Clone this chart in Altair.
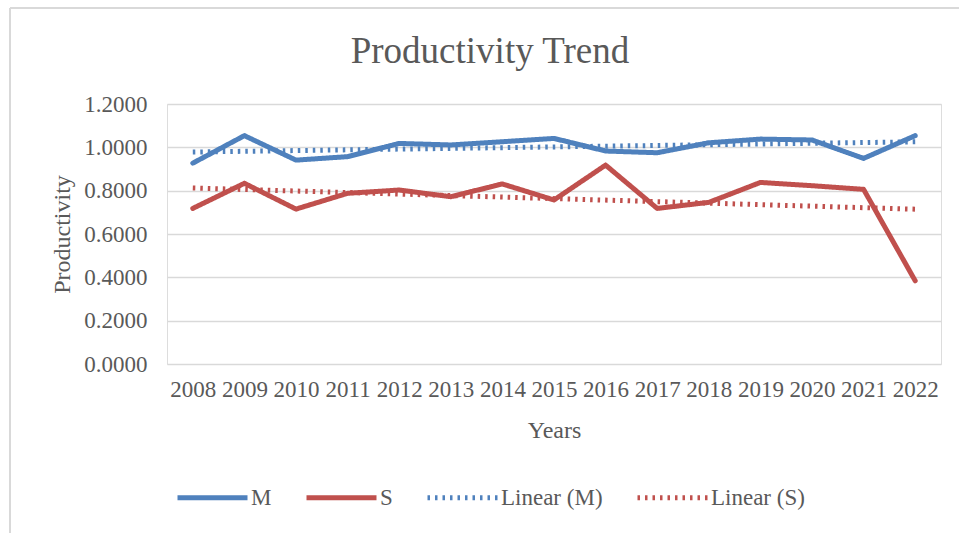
import altair as alt
import pandas as pd

years = list(range(2008, 2023))
m_vals = [0.927, 1.054, 0.941, 0.957, 1.018, 1.011, 1.026, 1.041, 0.983, 0.975, 1.021, 1.038, 1.034, 0.949, 1.054]
s_vals = [0.718, 0.834, 0.715, 0.788, 0.803, 0.772, 0.831, 0.757, 0.918, 0.718, 0.746, 0.838, 0.823, 0.806, 0.384]
series_names = ["M", "S"]
legend_labels = ["M", "S", "Linear (M)", "Linear (S)"]
colors = ["#4F81BD", "#C0504D", "#4F81BD", "#C0504D"]
y_ticks = [0, 0.2, 0.4, 0.6, 0.8, 1.0, 1.2]

rows = []
for name, vals in zip(series_names, [m_vals, s_vals]):
    for yr, v in zip(years, vals):
        rows.append({"year": yr, "value": v, "series": name, "label": name})
df = pd.DataFrame(rows)

FONT = "Liberation Serif"
TXT = "#595959"

x_enc = alt.X(
    "year:Q",
    scale=alt.Scale(domain=[2007.5, 2022.5], nice=False, zero=False),
    axis=alt.Axis(
        values=years, format="d", grid=False, domain=False, ticks=False,
        labelPadding=14, labelFontSize=23, labelFont=FONT, labelColor=TXT,
        title="Years", titleFontSize=24, titleFont=FONT, titleColor=TXT,
        titleFontWeight="normal", titleY=66, titleBaseline="middle",
    ),
)
y_enc = alt.Y(
    "value:Q",
    scale=alt.Scale(domain=[0, 1.2], nice=False),
    axis=alt.Axis(
        values=y_ticks, format=".4f", domain=False, ticks=False,
        gridColor="#D9D9D9", gridWidth=1.5,
        labelPadding=20, labelFontSize=23, labelFont=FONT, labelColor=TXT,
        title="Productivity", titleFontSize=24, titleFont=FONT, titleColor=TXT,
        titleFontWeight="normal", titleX=-105, titleY=130, titleBaseline="middle",
        titleAngle=270,
    ),
)

color_enc = alt.Color(
    "label:N",
    scale=alt.Scale(domain=legend_labels, range=colors),
    legend=alt.Legend(
        title=None, orient="none", direction="horizontal", legendX=8, legendY=356,
        symbolType="stroke", symbolSize=4900, labelFontSize=23, labelFont=FONT,
        labelColor=TXT, labelOffset=1, columnPadding=24, padding=0,
    ),
)
dash_enc = alt.StrokeDash(
    "label:N",
    scale=alt.Scale(domain=legend_labels, range=[[1, 0], [1, 0], [2.5, 5], [2.5, 5]]),
    legend=None,
)
width_enc = alt.StrokeWidth(
    "label:N",
    scale=alt.Scale(domain=legend_labels, range=[5, 5, 3, 3]),
    legend=None,
)

base = alt.Chart(df)

lines = base.mark_line(strokeCap="round", strokeJoin="round").encode(
    x=x_enc, y=y_enc, color=color_enc, strokeDash=dash_enc, strokeWidth=width_enc,
)

trend = (
    base.transform_regression("year", "value", groupby=["series"], extent=[2008, 2022])
    .transform_calculate(label="'Linear (' + datum.series + ')'")
    .mark_line()
    .encode(x=x_enc, y=y_enc, color=color_enc, strokeDash=dash_enc, strokeWidth=width_enc)
)

# light chart-frame border (left and top edges) as in the reference
frame_df = pd.DataFrame({"k": [0]})
frame_left = alt.Chart(frame_df).mark_rule(color="#D9D9D9", strokeWidth=2).encode(
    x=alt.value(-157), y=alt.value(-96), y2=alt.value(440)
)
frame_top = alt.Chart(frame_df).mark_rule(color="#D9D9D9", strokeWidth=2).encode(
    x=alt.value(-157), x2=alt.value(800), y=alt.value(-96)
)

chart = (
    alt.layer(frame_left, frame_top, trend, lines)
    .properties(
        width=774, height=260,
        title=alt.TitleParams(
            "Productivity Trend", fontSize=37, font=FONT, color=TXT,
            fontWeight="normal", anchor="middle", baseline="alphabetic", offset=42,
            frame="group", dy=135, dx=-64,
        ),
        autosize=alt.AutoSizeParams(type="none"),
        padding={"left": 167, "top": 104, "right": 18, "bottom": 169},
    )
    .configure_view(stroke=None)
    .configure(background="white")
)

chart.save("out.html", embed_options={"renderer": "svg", "actions": False})
